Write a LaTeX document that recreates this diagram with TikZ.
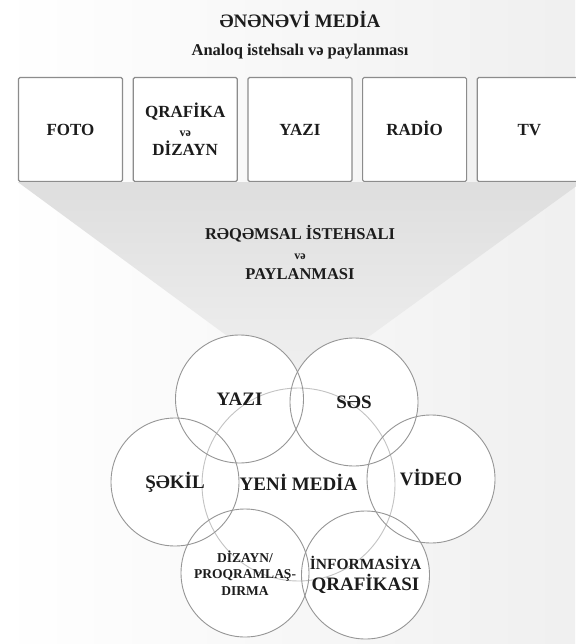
\documentclass[tikz,border=0pt]{standalone}
\usepackage{fontspec}
\setmainfont{Liberation Serif}
\usepackage{tikz}
\usetikzlibrary{positioning}
\definecolor{boxline}{RGB}{140,140,140}
\definecolor{ringline}{RGB}{150,150,150}
\definecolor{coreline}{RGB}{195,195,195}
\definecolor{inkgray}{RGB}{28,28,28}

\begin{document}
\begin{tikzpicture}[
    x=1pt, y=-1pt,
    node distance=9.5pt,
    mediabox/.style={draw=boxline, fill=white, line width=1.2pt, rounded corners=1.5pt, minimum width=104pt, minimum height=104pt, align=center, text=inkgray, font=\fontsize{17}{19}\selectfont\bfseries},
    ring/.style={circle, draw=ringline, line width=0.9pt, minimum size=128pt, inner sep=0pt, align=center, text=inkgray, font=\fontsize{19}{21}\selectfont\bfseries},
    core/.style={ring, draw=coreline, minimum size=193pt},
    oneline/.style={text height=12.5pt, text depth=0pt},
    heading/.style={text=inkgray, font=\fontsize{19}{21}\selectfont\bfseries},
    subheading/.style={text=inkgray, align=center, font=\fontsize{16.5}{20}\selectfont\bfseries},
  ]
  \useasboundingbox (0,0) rectangle (575,644);
  \shade[left color=white, right color=gray!12] (0,0) rectangle (575,644);
  \node[heading] (title) at (300,20) {ƏNƏNƏVİ MEDİA};
  \node[subheading, below=9pt of title] (analoq) {Analoq istehsalı və paylanması};
  \node[mediabox, oneline] (foto) at (70.5,129.5) {FOTO};
  \node[mediabox, right=of foto] (qrafika) {QRAFİKA\\{\fontsize{12}{12}\selectfont və}\\DİZAYN};
  \node[mediabox, oneline, right=of qrafika] (yazibox) {YAZI};
  \node[mediabox, oneline, right=of yazibox] (radio) {RADİO};
  \node[mediabox, oneline, right=of radio] (tv) {TV};
  \coordinate (apex) at (298,388);
  \shade[top color=gray!26, bottom color=gray!11] (foto.south west) -- (tv.south east) -- (apex) -- cycle;
  \node[subheading] (reqemsal) at (300,253) {RƏQƏMSAL İSTEHSALI\\{\fontsize{12}{12}\selectfont və}\\PAYLANMASI};
  \coordinate (c-core) at (298.5,484.5);
  \coordinate (c-yazi) at (239.5,399);
  \coordinate (c-ses) at (354,402);
  \coordinate (c-sekil) at (175,482);
  \coordinate (c-video) at (431,479);
  \coordinate (c-dizayn) at (245,573);
  \coordinate (c-info) at (365.5,575);
  \fill[white] (c-core) circle (96.5);
  \foreach \c in {yazi,ses,sekil,video,dizayn,info}
    \fill[white] (c-\c) circle (64);
  \node[core, oneline] (core) at (c-core) {YENİ MEDİA};
  \node[ring, oneline] (yazi) at (c-yazi) {YAZI};
  \node[ring, oneline] (ses) at (c-ses) {SƏS};
  \node[ring, oneline] (sekil) at (c-sekil) {ŞƏKİL};
  \node[ring, oneline] (video) at (c-video) {VİDEO};
  \node[ring, font=\fontsize{13.5}{16.5}\selectfont\bfseries] (dizayn) at (c-dizayn) {DİZAYN/\\PROQRAMLAŞ-\\DIRMA};
  \node[ring] (info) at (c-info) {{\fontsize{15.5}{21}\selectfont İNFORMASİYA}\\QRAFİKASI};
\end{tikzpicture}
\end{document}
